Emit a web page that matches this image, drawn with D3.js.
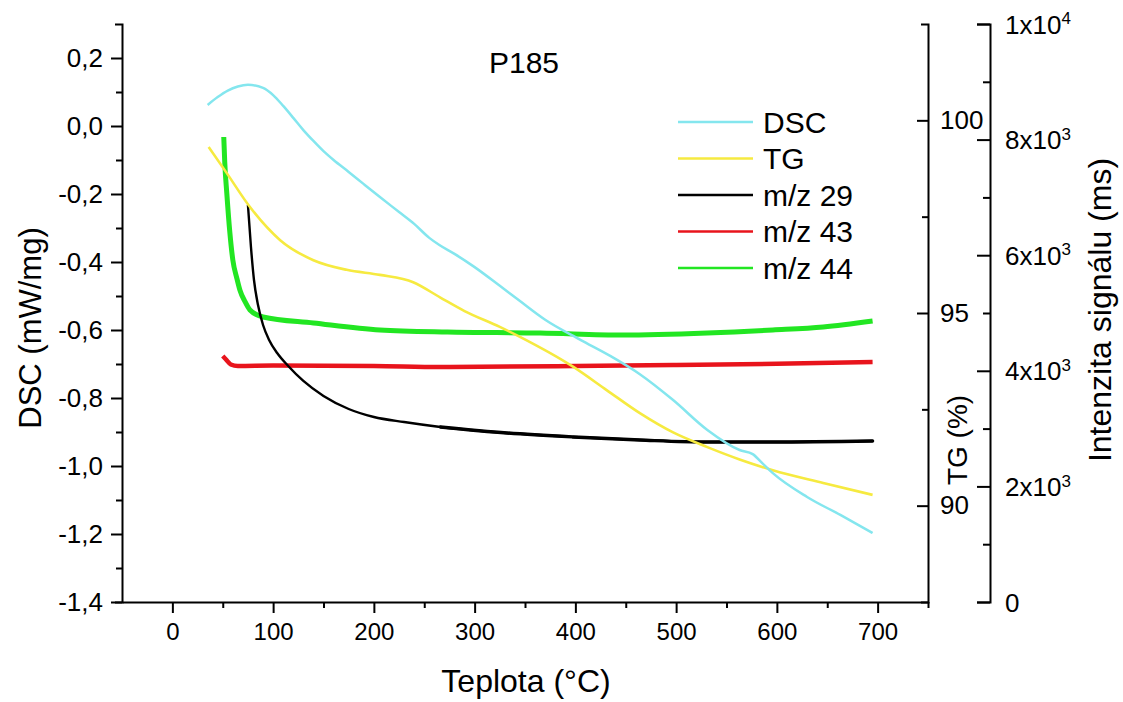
<!DOCTYPE html>
<html>
<head>
<meta charset="utf-8">
<script src="https://cdn.jsdelivr.net/npm/d3@7"></script>
<style>
  body { margin: 0; background: #ffffff; }
  svg { display: block; font-family: "Liberation Sans", Arial, sans-serif; }
</style>
</head>
<body>
<svg></svg>
<script>
// values (temperature in °C)
const dscTemp = [35, 45, 55, 65, 75, 90, 100, 110, 120, 130, 140, 150, 160, 175, 190, 206, 225, 240, 255, 265, 280, 300, 325, 345, 370, 405, 435, 464, 497, 531, 563, 576, 585, 596, 630, 663, 695];
const dscValues = [0.062, 0.085, 0.104, 0.116, 0.121, 0.112, 0.091, 0.059, 0.024, -0.012, -0.044, -0.074, -0.100, -0.135, -0.171, -0.209, -0.253, -0.288, -0.329, -0.350, -0.376, -0.415, -0.470, -0.515, -0.570, -0.629, -0.677, -0.730, -0.806, -0.894, -0.953, -0.965, -0.990, -1.021, -1.091, -1.144, -1.197];

const tgTemp = [36, 54, 77, 107, 140, 173, 206, 239, 266, 290, 325, 345, 398, 431, 464, 497, 531, 563, 596, 646, 695];
const tgValues = [99.31, 98.63, 97.75, 96.89, 96.37, 96.12, 95.99, 95.80, 95.40, 95.05, 94.64, 94.38, 93.60, 93.00, 92.40, 91.90, 91.52, 91.20, 90.92, 90.59, 90.28];

const mz29Temp = [75, 78, 81, 85, 90, 96, 104, 115, 130, 150, 175, 200, 230, 266, 332, 398, 464, 531, 596, 695];
const mz29Values = [6869, 6142, 5571, 5138, 4792, 4533, 4308, 4083, 3824, 3564, 3339, 3201, 3114, 3028, 2924, 2855, 2803, 2768, 2768, 2785];

const mz43Temp = [50, 53, 58, 65, 100, 200, 266, 400, 497, 600, 695];
const mz43Values = [4256, 4200, 4110, 4083, 4090, 4083, 4066, 4083, 4100, 4120, 4152];

const mz44Temp = [51, 52, 54, 57, 60, 64, 67, 72, 77, 90, 140, 206, 273, 365, 447, 531, 596, 646, 695];
const mz44Values = [8045, 7600, 7076, 6400, 5917, 5600, 5398, 5200, 5052, 4931, 4827, 4706, 4671, 4654, 4619, 4654, 4706, 4758, 4862];

// tick labels
const xTicks = [0, 100, 200, 300, 400, 500, 600, 700];
const dscTicks = [-1.4, -1.2, -1.0, -0.8, -0.6, -0.4, -0.2, 0.0, 0.2];
const dscTickLabels = ["-1,4", "-1,2", "-1,0", "-0,8", "-0,6", "-0,4", "-0,2", "0,0", "0,2"];
const tgTicks = [90, 95, 100];
const msTicks = [0, 2000, 4000, 6000, 8000, 10000];
const msTickBase = ["0", "2x10", "4x10", "6x10", "8x10", "1x10"];
const msTickExp = ["", "3", "3", "3", "3", "4"];

const seriesNames = ["DSC", "TG", "m/z 29", "m/z 43", "m/z 44"];
const seriesColors = ["#84e6ee", "#f6ea40", "#000000", "#e8141c", "#22e622"];

const width = 1123, height = 702;
const svg = d3.select("svg").attr("width", width).attr("height", height);

const x = d3.scaleLinear().domain([-50, 750]).range([122, 928]);
const yDsc = d3.scaleLinear().domain([-1.4, 0.3]).range([602, 24]);
const yTg = d3.scaleLinear().domain([87.5, 102.5]).range([602, 24]);
const yMs = d3.scaleLinear().domain([0, 10000]).range([602, 24]);

function styleAxis(g) {
    g.selectAll("path, line").attr("stroke", "#000").attr("stroke-width", 2);
    g.selectAll("text").attr("fill", "#000");
}

// minor ticks
const minorX = d3.range(50, 800, 100);
const minorDsc = [-1.3, -1.1, -0.9, -0.7, -0.5, -0.3, -0.1, 0.1];
const minorTg = [92.5, 97.5];
const minorMs = [1000, 3000, 5000, 7000, 9000];

svg.append("g")
    .attr("transform", "translate(0,602)")
    .call(d3.axisBottom(x).tickValues(minorX).tickSize(6).tickFormat(""))
    .call(g => g.select(".domain").remove())
    .call(styleAxis);

svg.append("g")
    .attr("transform", "translate(122,0)")
    .call(d3.axisLeft(yDsc).tickValues(minorDsc).tickSize(6).tickFormat(""))
    .call(g => g.select(".domain").remove())
    .call(styleAxis);

svg.append("g")
    .attr("transform", "translate(928,0)")
    .call(d3.axisRight(yTg).tickValues(minorTg).tickSize(-6).tickFormat(""))
    .call(g => g.select(".domain").remove())
    .call(styleAxis);

svg.append("g")
    .attr("transform", "translate(990,0)")
    .call(d3.axisRight(yMs).tickValues(minorMs).tickSize(-7).tickFormat(""))
    .call(g => g.select(".domain").remove())
    .call(styleAxis);

// x axis
svg.append("g")
    .attr("transform", "translate(0,602)")
    .call(d3.axisBottom(x).tickValues(xTicks).tickSize(11).tickSizeOuter(0).tickPadding(10))
    .call(styleAxis)
    .selectAll("text")
    .style("font-size", "24px");

// DSC axis
svg.append("g")
    .attr("transform", "translate(122,0)")
    .call(d3.axisLeft(yDsc).tickValues(dscTicks).tickSize(11).tickSizeOuter(7).tickPadding(8)
        .tickFormat((d, i) => dscTickLabels[i]))
    .call(styleAxis)
    .selectAll("text")
    .style("font-size", "26px");

// TG axis, ticks point into the plot
svg.append("g")
    .attr("transform", "translate(928,0)")
    .call(d3.axisRight(yTg).tickValues(tgTicks).tickSize(-11).tickSizeOuter(-7).tickPadding(12))
    .call(styleAxis)
    .selectAll("text")
    .style("font-size", "26px");

// signal intensity axis
const msAxis = svg.append("g")
    .attr("transform", "translate(990,0)")
    .call(d3.axisRight(yMs).tickValues(msTicks).tickSize(-13).tickSizeOuter(-13).tickFormat(""))
    .call(styleAxis);

msAxis.selectAll(".tick").each(function(d, i) {
    const t = d3.select(this).append("text")
        .attr("x", 15)
        .attr("dy", "0.35em")
        .attr("fill", "#000")
        .style("font-size", "26px");
    t.append("tspan").text(msTickBase[i]);
    if (msTickExp[i]) {
        t.append("tspan")
            .attr("dy", "-0.55em")
            .style("font-size", "17px")
            .text(msTickExp[i]);
    }
});

// curves
const series = [
    { temp: dscTemp, vals: dscValues, y: yDsc, w: 2.5 },
    { temp: tgTemp, vals: tgValues, y: yTg, w: 2.6 },
    { temp: mz29Temp, vals: mz29Values, y: yMs, w: 2.4 },
    { temp: mz43Temp, vals: mz43Values, y: yMs, w: 4.5 },
    { temp: mz44Temp, vals: mz44Values, y: yMs, w: 5 }
];

const plot = svg.append("g");
// draw noisy traces first so DSC and TG sit on top like in the figure
[4, 3, 2, 1, 0].forEach(i => {
    const s = series[i];
    const line = d3.line()
        .x(d => x(d[0]))
        .y(d => s.y(d[1]))
        .curve(d3.curveMonotoneX);
    const pts = s.temp.map((t, k) => [t, s.vals[k]]);
    plot.append("path")
        .attr("d", line(pts))
        .attr("fill", "none")
        .attr("stroke", seriesColors[i])
        .attr("stroke-width", s.w)
        .attr("stroke-linejoin", "round");
    // the m/z 29 trace gets noisier once it flattens
    if (i === 2) {
        plot.append("path")
            .attr("d", line(pts.filter(p => p[0] >= 266)))
            .attr("fill", "none")
            .attr("stroke", seriesColors[i])
            .attr("stroke-width", 3.4)
            .attr("stroke-linecap", "round");
    }
});

// titles
svg.append("text")
    .attr("x", 524).attr("y", 62)
    .attr("text-anchor", "middle").attr("dy", "0.35em")
    .style("font-size", "30px")
    .text("P185");

svg.append("text")
    .attr("transform", "translate(30,328) rotate(-90)")
    .attr("text-anchor", "middle").attr("dy", "0.35em")
    .style("font-size", "31px")
    .text("DSC (mW/mg)");

svg.append("text")
    .attr("transform", "translate(957,440) rotate(-90)")
    .attr("text-anchor", "middle").attr("dy", "0.35em")
    .style("font-size", "28px")
    .text("TG (%)");

svg.append("text")
    .attr("transform", "translate(1100,310) rotate(-90)")
    .attr("text-anchor", "middle").attr("dy", "0.35em")
    .style("font-size", "32px")
    .text("Intenzita signálu (ms)");

svg.append("text")
    .attr("x", 526).attr("y", 692)
    .attr("text-anchor", "middle")
    .style("font-size", "32px")
    .text("Teplota (°C)");

// legend
const legend = svg.append("g").attr("transform", "translate(678,122)");
seriesNames.forEach((name, i) => {
    legend.append("line")
        .attr("x1", 0).attr("x2", 75)
        .attr("y1", i * 36.5).attr("y2", i * 36.5)
        .attr("stroke", seriesColors[i])
        .attr("stroke-width", 2.5);
    legend.append("text")
        .attr("x", 85).attr("y", i * 36.5)
        .attr("dy", "0.35em")
        .style("font-size", "30px")
        .text(name);
});
</script>
</body>
</html>
